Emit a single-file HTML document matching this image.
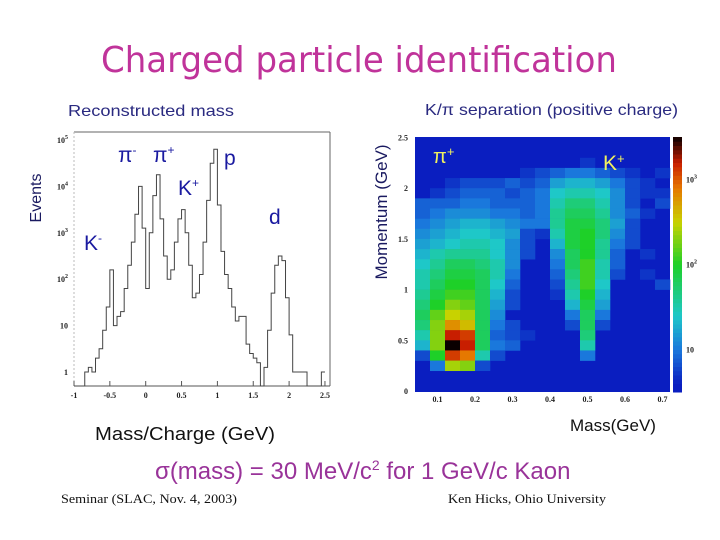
<!DOCTYPE html>
<html><head><meta charset="utf-8"><style>
html,body{margin:0;padding:0;background:#fff;}
svg{display:block;}
.tk{font-family:"Liberation Serif",serif;font-weight:bold;font-size:8px;fill:#222;}
</style></head><body>
<svg id="slide" width="720" height="540" viewBox="0 0 720 540" xmlns="http://www.w3.org/2000/svg">
<text x="359" y="72" text-anchor="middle" textLength="516" lengthAdjust="spacingAndGlyphs" font-family="DejaVu Sans, sans-serif" font-size="36" fill="#c0339a">Charged particle identification</text>
<text x="68" y="116" font-family="Liberation Sans, sans-serif" font-size="16" fill="#2a2a80" textLength="166" lengthAdjust="spacingAndGlyphs">Reconstructed mass</text>
<text x="425" y="115" font-family="Liberation Sans, sans-serif" font-size="16" fill="#2a2a80" textLength="253" lengthAdjust="spacingAndGlyphs">K/π separation (positive charge)</text>

<g id="left">
  <line x1="74" y1="132" x2="330" y2="132" stroke="#666" stroke-width="1"/>
  <line x1="330" y1="132" x2="330" y2="386" stroke="#666" stroke-width="1"/>
  <line x1="74" y1="132" x2="74" y2="386" stroke="#bbb" stroke-width="1" stroke-dasharray="2,2"/>
  <line x1="74" y1="386" x2="330" y2="386" stroke="#555" stroke-width="1"/>
  <g id="lticks"></g>
  <path id="histpath" fill="none" stroke="#444" stroke-width="1"/>
  <text transform="translate(41,198) rotate(-90)" text-anchor="middle" font-family="Liberation Sans, sans-serif" font-size="16" fill="#1a1a60">Events</text>
  <g font-family="Liberation Sans, sans-serif" font-size="21" fill="#1a1aa0">
    <text x="118" y="162">π<tspan font-size="12" dy="-8">-</tspan></text>
    <text x="153" y="162">π<tspan font-size="12" dy="-8">+</tspan></text>
    <text x="224" y="165">p</text>
    <text x="178" y="195">K<tspan font-size="12" dy="-8">+</tspan></text>
    <text x="269" y="224">d</text>
    <text x="84" y="250">K<tspan font-size="12" dy="-8">-</tspan></text>
  </g>
  <text x="95" y="440" font-family="Liberation Sans, sans-serif" font-size="18" fill="#111" textLength="180" lengthAdjust="spacingAndGlyphs">Mass/Charge (GeV)</text>
</g>

<g id="right">
  <rect x="415" y="137" width="255" height="255" fill="#0a1ec0"/>
  <g id="cells"></g>
  <g id="cbar"></g>
  <g id="rticks"></g>
  <text transform="translate(387,212) rotate(-90)" text-anchor="middle" font-family="Liberation Sans, sans-serif" font-size="17" fill="#1a1a60">Momentum (GeV)</text>
  <text x="433" y="163" font-family="Liberation Sans, sans-serif" font-size="20" fill="#f0f060">π<tspan font-size="13" dy="-7">+</tspan></text>
  <text x="603" y="170" font-family="Liberation Sans, sans-serif" font-size="21" fill="#f0f060">K<tspan font-size="13" dy="-7">+</tspan></text>
  <text x="570" y="431" font-family="Liberation Sans, sans-serif" font-size="17" fill="#111">Mass(GeV)</text>
</g>

<text x="155" y="479" font-family="Liberation Sans, sans-serif" font-size="24" fill="#993399">σ(mass) = 30 MeV/c<tspan font-size="14" dy="-9">2</tspan><tspan dy="9"> for 1 GeV/c Kaon</tspan></text>
<text x="61" y="503" font-family="Liberation Serif, serif" font-size="13" fill="#111" textLength="176" lengthAdjust="spacingAndGlyphs">Seminar (SLAC, Nov. 4, 2003)</text>
<text x="448" y="503" font-family="Liberation Serif, serif" font-size="13" fill="#111" textLength="158" lengthAdjust="spacingAndGlyphs">Ken Hicks, Ohio University</text>
</svg>
<script>
// ---- histogram data (bins of 0.05 starting at -1.0); log10(events), -1 = empty
const histStart = -1.0;
const histBinWidth = 0.05;
const histLogCounts = [-1,-1,-1,0,0.1,0,0.3,0.5,0.9,1.4,2.2,1.0,1.2,1.3,1.8,2.3,2.8,3.4,4.0,3.1,1.8,3.0,3.8,4.25,3.3,2.5,2.0,2.2,2.8,3.3,3.5,3.0,2.3,1.6,1.7,2.1,2.8,3.7,4.5,4.8,3.6,2.6,2.1,1.8,1.4,1.1,1.2,1.2,0.6,0.4,0.3,0.2,-1,0.1,0.9,1.7,2.3,2.5,2.4,1.6,0.8,0,0,0,0,-1,-1,-1,-1,0];
const histXTicks = [-1,-0.5,0,0.5,1,1.5,2,2.5];
const histXTickLabels = ["-1","-0.5","0","0.5","1","1.5","2","2.5"];
const histYTicks = [0,1,2,3,4,5];
const histYTickLabels = ["1","10","10","10","10","10"];
const histYTickExp = ["","","2","3","4","5"];

// ---- heatmap data: mass bins 0.04 from 0.04, momentum bins 0.1; rows from top (2.4-2.5) to bottom (0-0.1); log10(count), 0 = empty
const heatXStart = 0.04, heatXBin = 0.04, heatYBin = 0.1;
const heatRows = [
[0,0,0,0,0,0,0,0,0,0,0,0,0,0,0,0,0],
[0,0,0,0,0,0,0,0,0,0,0,0,0,0,0,0,0],
[0,0,0,0,0,0,0,0,0,0,0,0.7,0,0,0,0,0],
[0,0,0,0,0,0,0,0.7,0.8,0.9,1.0,1.0,0.9,0.8,0.7,0,0.7],
[0,0,0.7,0.8,0.8,0.8,0.9,0.8,0.9,1.2,1.3,1.3,1.2,1.0,0.8,0.7,0],
[0,0.7,0.8,0.9,0.9,0.9,0.8,0.9,1.0,1.4,1.5,1.5,1.4,1.1,0.8,0.7,0.7],
[0.9,0.9,0.9,1.0,1.0,0.9,0.9,0.9,1.0,1.5,1.7,1.7,1.5,1.1,0.8,0,0.8],
[0.9,1.0,1.1,1.1,1.1,1.0,1.0,0.9,1.0,1.6,1.8,1.8,1.6,1.1,0.9,0.7,0],
[1.0,1.1,1.2,1.3,1.3,1.2,1.1,1.0,1.0,1.6,1.9,1.9,1.7,1.2,0.8,0,0],
[1.1,1.2,1.3,1.4,1.4,1.3,1.2,0.8,0.7,1.5,1.9,2.0,1.7,1.1,0.8,0,0],
[1.2,1.3,1.4,1.5,1.5,1.4,1.1,0.8,0,1.3,1.9,2.0,1.6,1.0,0.8,0,0],
[1.3,1.5,1.6,1.6,1.6,1.4,1.1,0.8,0,1.1,1.8,2.0,1.6,0.9,0,0.7,0],
[1.4,1.6,1.8,1.8,1.7,1.5,1.1,0,0,1.0,1.8,2.1,1.5,0.9,0,0,0],
[1.5,1.7,1.9,1.9,1.8,1.5,1.0,0,0,0.9,1.7,2.1,1.5,0.8,0,0.7,0],
[1.5,1.8,2.0,2.0,1.8,1.4,0.9,0,0,0.8,1.6,2.1,1.4,0,0,0,0.8],
[1.6,1.9,2.1,2.1,1.8,1.3,0.8,0,0,0.7,1.5,2.0,1.3,0,0,0,0],
[1.7,2.0,2.3,2.2,1.8,1.2,0.8,0,0,0,1.3,1.9,1.2,0,0,0,0],
[1.8,2.2,2.5,2.4,1.8,1.1,0,0,0,0,1.0,1.8,1.0,0,0,0,0],
[1.7,2.3,2.8,2.6,1.8,1.0,0.8,0,0,0,0.8,1.8,0.8,0,0,0,0],
[1.5,2.3,3.2,3.1,1.8,0.9,0.8,0.7,0,0,0,1.7,0,0,0,0,0],
[1.3,2.3,3.5,3.2,1.8,1.0,0.9,0,0,0,0,1.5,0,0,0,0,0],
[0.8,2.0,3.1,2.9,1.5,0.8,0,0,0,0,0,1.0,0,0,0,0,0],
[0,1.0,2.4,2.3,0.8,0,0,0,0,0,0,0,0,0,0,0,0],
[0,0,0,0,0,0,0,0,0,0,0,0,0,0,0,0,0],
[0,0,0,0,0,0,0,0,0,0,0,0,0,0,0,0,0]
];
const heatXTicks = [0.1,0.2,0.3,0.4,0.5,0.6,0.7];
const heatXTickLabels = ["0.1","0.2","0.3","0.4","0.5","0.6","0.7"];
const heatYTicks = [0,0.5,1,1.5,2,2.5];
const heatYTickLabels = ["0","0.5","1","1.5","2","2.5"];
const cbarTicks = [1,2,3];
const cbarTickLabels = ["10","10","10"];
const cbarTickExp = ["","2","3"];

const NS = "http://www.w3.org/2000/svg";
function mk(tag, attrs, parent){const e=document.createElementNS(NS,tag);for(const k in attrs)e.setAttribute(k,attrs[k]);parent.appendChild(e);return e;}

const hx = v => 74 + (v + 1) * 71.7;
const hy = l => 372 - l * 46.4;
const lt = document.getElementById('lticks');
histXTicks.forEach((v,i)=>{
  const t = mk('text',{x:hx(v),y:398,'text-anchor':'middle','class':'tk'},lt);
  
  
  t.textContent = histXTickLabels[i];
  const l = mk('line',{x1:hx(v),x2:hx(v),y1:386,y2:381,stroke:'#555'},lt);
  
  
});
histYTicks.forEach((v,i)=>{
  const t = mk('text',{x:68,y:hy(v)+3,'text-anchor':'end','class':'tk'},lt);
  
  
  t.textContent = histYTickLabels[i];
  if(histYTickExp[i]){const s=mk('tspan',{dy:-4,'font-size':6},t);s.textContent=histYTickExp[i];}
});
let d = "";
const base = 386;
histLogCounts.forEach((l,i)=>{
  const x0 = hx(histStart + i*histBinWidth), x1 = hx(histStart + (i+1)*histBinWidth);
  const y = l < 0 ? base : hy(l);
  d += (i===0 ? "M"+x0+","+y : "L"+x0+","+y) + " L"+x1+","+y+" ";
});
document.getElementById('histpath').setAttribute('d', d);

const mx = v => 415 + (v - 0.04) * 375;
const py = v => 391 - v * 101.4;
const stops = [[0.6,[10,30,192]],[1.0,[26,120,220]],[1.4,[30,200,200]],[2.0,[30,208,40]],[2.5,[200,210,0]],[2.9,[230,120,0]],[3.2,[200,30,0]],[3.5,[10,0,0]]];
function color(l){
  if(l<=stops[0][0]) return 'rgb('+stops[0][1]+')';
  for(let i=1;i<stops.length;i++){
    if(l<=stops[i][0]){const a=stops[i-1],b=stops[i],t=(l-a[0])/(b[0]-a[0]);
      return 'rgb('+a[1].map((c,j)=>Math.round(c+(b[1][j]-c)*t)).join(',')+')';}
  }
  return 'rgb('+stops[stops.length-1][1]+')';
}
const cg = document.getElementById('cells');
const nRows = heatRows.length;
heatRows.forEach((row,r)=>{
  const yTop = (nRows - r) * heatYBin, yBot = (nRows - r - 1) * heatYBin;
  row.forEach((l,c)=>{
    if(l<=0) return;
    const x0 = mx(heatXStart + c*heatXBin), x1 = mx(heatXStart + (c+1)*heatXBin);
    const rc = mk('rect',{x:x0,y:py(yTop),width:x1-x0+0.3,height:py(yBot)-py(yTop)+0.3,fill:color(l)},cg);
    
    
  });
});
const rt = document.getElementById('rticks');
heatXTicks.forEach((v,i)=>{
  const t = mk('text',{x:mx(v),y:402,'text-anchor':'middle','class':'tk'},rt);
  
  
  t.textContent = heatXTickLabels[i];
});
heatYTicks.forEach((v,i)=>{
  const t = mk('text',{x:408,y:py(v)+3,'text-anchor':'end','class':'tk'},rt);
  
  
  t.textContent = heatYTickLabels[i];
});
const cb = document.getElementById('cbar');
const cy = l => 392 - (l - 0.5) / 3.0 * 255;
for(let k=0;k<60;k++){
  const l0 = 0.5 + k*0.05, l1 = l0 + 0.05;
  const rc = mk('rect',{x:673,y:cy(l1),width:9,height:cy(l0)-cy(l1)+0.5,fill:color(l0+0.025)},cb);
  
  
}
cbarTicks.forEach((v,i)=>{
  const t = mk('text',{x:686,y:cy(v)+3,'class':'tk'},cb);
  
  
  t.textContent = cbarTickLabels[i];
  if(cbarTickExp[i]){const s=mk('tspan',{dy:-4,'font-size':6},t);s.textContent=cbarTickExp[i];}
});
</script>
</body></html>
